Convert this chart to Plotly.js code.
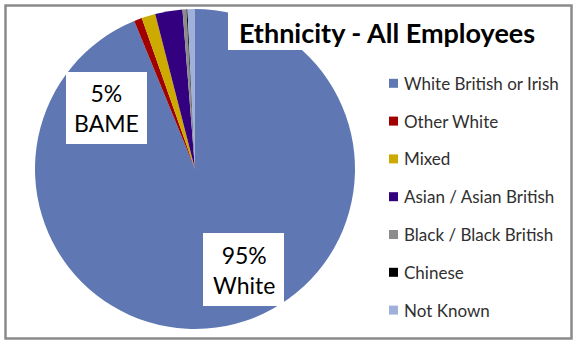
<!DOCTYPE html>
<html>
<head>
<meta charset="utf-8">
<script src="https://cdn.plot.ly/plotly-3.0.1.min.js"></script>
<style>html,body{margin:0;padding:0;background:#fff;}#chart{width:573px;height:340px;}</style>
</head>
<body>
<div id="chart"></div>
<script>
// Data (percent of all employees)
var categories = ["White British or Irish", "Other White", "Mixed", "Asian / Asian British", "Black / Black British", "Chinese", "Not Known"];
var values = [93.8, 0.8, 1.4, 2.75, 0.4, 0.1, 0.75];
var colors = ["#5F78B4", "#A00000", "#CCAA00", "#330080", "#8C8C8C", "#000000", "#9FB1DA"];
var summaryLabels = ["5%<br>BAME", "95%<br>White"];
var chartTitle = "Ethnicity - All Employees";

var W = 573, H = 340;
function px(x) { return x / W; }
function py(y) { return 1 - y / H; }

var font = "Lato, 'Open Sans', sans-serif";

var trace = {
  type: "pie",
  labels: categories,
  values: values,
  marker: { colors: colors, line: { width: 0 } },
  sort: false,
  direction: "clockwise",
  rotation: 0,
  textinfo: "none",
  hoverinfo: "label+percent",
  showlegend: false,
  domain: { x: [px(35), px(355)], y: [py(329), py(9)] }
};

var shapes = [];
var annotations = [];

// title backdrop (white box covering pie top-right)
shapes.push({ type: "rect", xref: "paper", yref: "paper", x0: px(228), x1: px(570), y0: py(50), y1: py(6.5), fillcolor: "#ffffff", line: { width: 0 }, layer: "above" });
// label boxes
shapes.push({ type: "rect", xref: "paper", yref: "paper", x0: px(66), x1: px(147), y0: py(144), y1: py(72), fillcolor: "#ffffff", line: { width: 0 }, layer: "above" });
shapes.push({ type: "rect", xref: "paper", yref: "paper", x0: px(203), x1: px(284), y0: py(306), y1: py(233), fillcolor: "#ffffff", line: { width: 0 }, layer: "above" });
// outer border
shapes.push({ type: "rect", xref: "paper", yref: "paper", x0: px(5.5), x1: px(571.5), y0: py(338.5), y1: py(5.5), fillcolor: "rgba(0,0,0,0)", line: { width: 2.5, color: "#8A8A8A" }, layer: "above" });

annotations.push({ xref: "paper", yref: "paper", x: px(106.5), y: py(108), xanchor: "center", yanchor: "middle", text: summaryLabels[0], showarrow: false, align: "center", font: { family: font, size: 23, color: "#000000" } });
annotations.push({ xref: "paper", yref: "paper", x: px(244), y: py(270), xanchor: "center", yanchor: "middle", text: summaryLabels[1], showarrow: false, align: "center", font: { family: font, size: 23, color: "#000000" } });

// legend built from categories and colours
var legY0 = 83.3, legStep = 37.8;
for (var i = 0; i < categories.length; i++) {
  var yc = legY0 + i * legStep;
  shapes.push({ type: "rect", xref: "paper", yref: "paper", x0: px(389), x1: px(398), y0: py(yc + 4.5), y1: py(yc - 4.5), fillcolor: colors[i], line: { width: 0 }, layer: "above" });
  annotations.push({ xref: "paper", yref: "paper", x: px(401.5), y: py(yc), xanchor: "left", yanchor: "middle", text: categories[i], showarrow: false, font: { family: font, size: 17, color: "#303030" } });
}

var layout = {
  width: W, height: H,
  margin: { l: 0, r: 0, t: 0, b: 0 },
  paper_bgcolor: "#ffffff",
  showlegend: false,
  title: { text: "<b>" + chartTitle + "</b>", x: px(387), xanchor: "center", y: py(34), yanchor: "middle", xref: "paper", yref: "paper", font: { family: font, size: 27, color: "#000000" } },
  shapes: shapes,
  annotations: annotations
};

Plotly.newPlot("chart", [trace], layout, { displayModeBar: false, staticPlot: true });
</script>
</body>
</html>
